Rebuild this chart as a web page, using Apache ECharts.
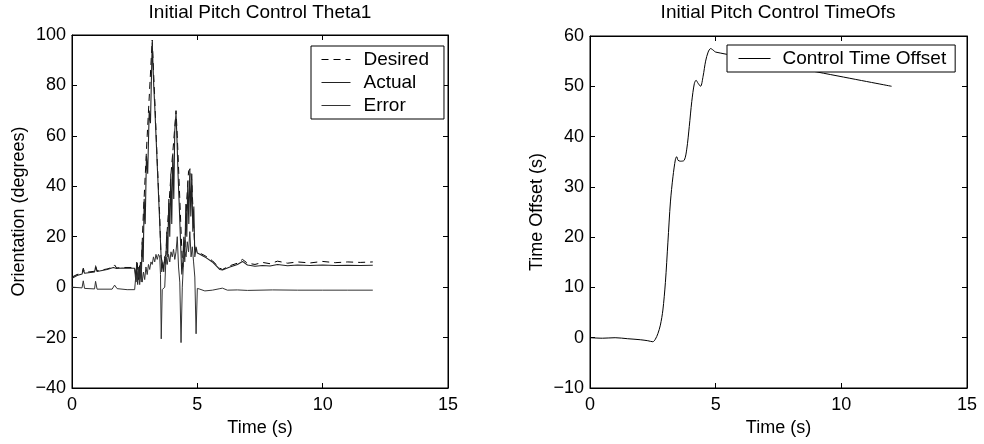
<!DOCTYPE html>
<html lang="en">
<head>
    <meta charset="UTF-8">
    <title>Initial Pitch Control</title>
    <script src="https://cdn.jsdelivr.net/npm/echarts@6/dist/echarts.min.js"></script>
    <style>
        html, body { margin: 0; padding: 0; background: #fff; }
        #main { width: 984px; height: 444px; }
    </style>
</head>
<body>
<div id="main"></div>
<script>
    // ---- data: [time (s), value] ----
    var desired = [
        [0, 4.0], [0.2, 5.0], [0.4, 5.5], [0.45, 7.5], [0.5, 5.8], [0.9, 6.3], [0.94, 8.5], [1.0, 6.5],
        [1.4, 7.2], [1.65, 8.0], [1.7, 8.8], [1.78, 7.6], [2.0, 7.8], [2.5, 7.8], [2.55, 4], [2.6, 10],
        [2.65, 3], [2.7, 9], [2.75, 5], [2.85, 30], [3.0, 60], [3.2, 98], [3.3, 75], [3.4, 50],
        [3.5, 28], [3.55, 12], [3.6, 10], [3.65, 11], [3.7, 12], [3.75, 13], [3.78, 20], [3.85, 30],
        [3.95, 45], [4.05, 57], [4.15, 70], [4.2, 60], [4.3, 35], [4.38, 15], [4.42, 8], [4.5, 15],
        [4.58, 35], [4.65, 46], [4.72, 47], [4.78, 42], [4.85, 25], [4.9, 15], [4.95, 14], [5.0, 14],
        [5.1, 13.5], [5.3, 12.5], [5.6, 10.5], [5.9, 7.5], [6.0, 7], [6.3, 8.5], [6.6, 9.5], [6.8, 11],
        [7.0, 9.5], [7.3, 9], [7.6, 9.8], [7.9, 9.3], [8.2, 10.3], [8.6, 9.5], [9.0, 10], [9.5, 9.6],
        [10.0, 10.2], [10.5, 9.7], [11.0, 10], [11.5, 9.8], [12.0, 10]
    ];
    var actual = [
        [0, 3.5], [0.2, 4.6], [0.4, 5.2], [0.45, 7], [0.5, 5.5], [0.9, 6], [0.94, 8], [1.0, 6.2],
        [1.4, 7], [1.65, 7.8], [1.7, 8.5], [1.78, 7.4], [2.0, 7.6], [2.5, 7.5], [2.55, 2], [2.58, 10],
        [2.62, 1], [2.66, 8], [2.7, 3], [2.73, 10], [2.76, 2], [2.8, 18], [2.84, 10], [2.88, 35],
        [2.92, 25], [2.97, 52], [3.02, 45], [3.08, 70], [3.13, 65], [3.2, 97], [3.26, 80], [3.3, 72],
        [3.36, 58], [3.42, 44], [3.48, 30], [3.53, 18], [3.58, 6], [3.62, 10], [3.66, 6], [3.7, 12],
        [3.74, 9], [3.78, 22], [3.82, 12], [3.86, 35], [3.9, 20], [3.94, 45], [3.98, 25], [4.02, 53],
        [4.06, 35], [4.1, 62], [4.15, 69], [4.19, 58], [4.23, 45], [4.28, 32], [4.33, 18], [4.38, 5],
        [4.42, 9], [4.46, 20], [4.5, 10], [4.54, 33], [4.58, 20], [4.62, 42], [4.66, 25], [4.7, 47],
        [4.74, 28], [4.78, 45], [4.82, 22], [4.86, 32], [4.9, 12], [4.95, 16], [5.0, 13.5], [5.1, 13],
        [5.3, 12], [5.6, 10], [5.9, 7], [6.0, 6.8], [6.3, 8], [6.6, 9], [6.8, 10.2], [7.0, 8.8],
        [7.3, 8.3], [7.6, 8.6], [7.9, 8.4], [8.2, 9], [8.6, 8.5], [9.0, 8.8], [9.5, 8.6], [10.0, 8.8],
        [10.5, 8.6], [11.0, 8.7], [11.5, 8.6], [12.0, 8.7]
    ];
    var error = [
        [0, 0], [0.4, -0.3], [0.45, 2.5], [0.5, -0.5], [0.9, -0.7], [0.94, 2.3], [1.0, -0.8], [1.6, -0.8],
        [1.7, 0.8], [1.8, -0.6], [2.2, -1], [2.5, -1], [2.55, 5], [2.6, 2], [2.65, 8], [2.7, 1],
        [2.75, 9], [2.8, 2], [2.85, 6], [2.9, 3], [2.95, 8], [3.0, 5], [3.05, 9], [3.1, 7],
        [3.15, 10], [3.2, 9], [3.25, 12], [3.3, 10], [3.35, 13], [3.4, 11], [3.45, 13], [3.5, 12],
        [3.53, 5], [3.56, -20.5], [3.6, -1], [3.65, -1.5], [3.7, 0], [3.75, 12], [3.8, 9], [3.85, 13],
        [3.9, 10], [3.95, 14], [4.0, 12], [4.05, 15], [4.1, 11], [4.15, 14], [4.2, 20], [4.25, 8],
        [4.3, 2], [4.35, -22], [4.4, 0], [4.45, 10], [4.5, 14], [4.55, 12], [4.6, 18], [4.65, 14],
        [4.7, 22], [4.75, 12], [4.8, 16], [4.85, 10], [4.9, 4], [4.95, -18.5], [5.0, -0.5], [5.1, -0.8],
        [5.3, -1.5], [5.6, -1.2], [5.9, -0.6], [6.0, -0.4], [6.2, -1.2], [6.6, -1.1], [7.0, -1.3],
        [8.0, -1.1], [9.0, -1.2], [10.0, -1.2], [11.0, -1.2], [12.0, -1.2]
    ];
    var timeOffset = [
        [0, 0], [0.5, -0.1], [1.0, 0], [1.5, -0.2], [2.0, -0.4], [2.3, -0.6], [2.5, -0.8], [2.6, -0.3],
        [2.7, 0.8], [2.8, 2.5], [2.9, 5.5], [3.0, 11], [3.1, 19], [3.2, 27], [3.3, 32], [3.4, 35.5],
        [3.45, 36], [3.5, 35.3], [3.6, 35.1], [3.75, 35.3], [3.85, 37.5], [3.95, 42], [4.05, 47],
        [4.15, 50.5], [4.22, 51.2], [4.3, 50.6], [4.4, 50], [4.5, 52], [4.6, 55], [4.7, 56.8],
        [4.8, 57.5], [4.9, 57.2], [5.0, 56.8], [12.0, 50]
    ];
    var xTicks = { min: 0, max: 15, interval: 5 };
    var thetaTicks = { min: -40, max: 100, interval: 20 };
    var offsetTicks = { min: -10, max: 60, interval: 10 };

    var FONT = 'Liberation Sans, Arial, sans-serif';

    // matlab style minus sign
    function tickFmt(v) {
        return String(v).replace('-', '\u2212');
    }

    function mkX(grid, ticks, top, name) {
        return {
            type: 'value', gridIndex: grid, position: top ? 'top' : 'bottom',
            min: ticks.min, max: ticks.max, interval: ticks.interval,
            name: top ? '' : name, nameLocation: 'middle', nameGap: 30,
            nameTextStyle: { color: '#000', fontSize: 18, fontFamily: FONT },
            axisLine: { show: true, onZero: false, lineStyle: { color: '#000', width: 1 } },
            axisTick: { show: true, inside: true, length: 5, lineStyle: { color: '#000' } },
            axisLabel: { show: !top, color: '#000', fontSize: 18, fontFamily: FONT, margin: 8, formatter: tickFmt },
            splitLine: { show: false }
        };
    }
    function mkY(grid, ticks, right, name) {
        return {
            type: 'value', gridIndex: grid, position: right ? 'right' : 'left',
            min: ticks.min, max: ticks.max, interval: ticks.interval,
            name: right ? '' : name, nameLocation: 'middle', nameGap: 44,
            nameTextStyle: { color: '#000', fontSize: 18, fontFamily: FONT },
            axisLine: { show: true, onZero: false, lineStyle: { color: '#000', width: 1 } },
            axisTick: { show: true, inside: true, length: 5, lineStyle: { color: '#000' } },
            axisLabel: { show: !right, color: '#000', fontSize: 18, fontFamily: FONT, margin: 6, formatter: tickFmt },
            splitLine: { show: false }
        };
    }

    var myChart = echarts.init(document.getElementById('main'), null, { renderer: 'canvas' });
    var option = {
        animation: false,
        backgroundColor: '#fff',
        title: [
            { text: 'Initial Pitch Control Theta1', left: 260, top: 3, padding: 0, textAlign: 'center',
              textStyle: { color: '#000', fontSize: 19, fontWeight: 'normal', fontFamily: FONT } },
            { text: 'Initial Pitch Control TimeOfs', left: 778, top: 3, padding: 0, textAlign: 'center',
              textStyle: { color: '#000', fontSize: 19, fontWeight: 'normal', fontFamily: FONT } }
        ],
        grid: [
            { left: 72, right: 536, top: 35, bottom: 56, show: true, borderColor: '#000', borderWidth: 1 },
            { left: 590, right: 17, top: 36, bottom: 56, show: true, borderColor: '#000', borderWidth: 1 }
        ],
        legend: [
            {
                orient: 'vertical', left: 311, top: 46,
                data: ['Desired', 'Actual', 'Error'],
                backgroundColor: '#fff', borderColor: '#000', borderWidth: 1,
                padding: [4, 15, 4, 10], itemGap: 4, itemWidth: 29, itemHeight: 14,
                itemStyle: { opacity: 0 },
                lineStyle: { width: 1 },
                textStyle: { color: '#000', fontSize: 19, fontFamily: FONT, lineHeight: 18, padding: [0, 0, 0, 8] }
            },
            {
                orient: 'vertical', left: 727, top: 45,
                data: ['Control Time Offset'],
                backgroundColor: '#fff', borderColor: '#000', borderWidth: 1,
                padding: [4, 9, 4, 11], itemWidth: 32, itemHeight: 14,
                itemStyle: { opacity: 0 },
                lineStyle: { width: 1 },
                textStyle: { color: '#000', fontSize: 19, fontFamily: FONT, lineHeight: 18, padding: [0, 0, 0, 7] }
            }
        ],
        xAxis: [
            mkX(0, xTicks, false, 'Time (s)'), mkX(0, xTicks, true),
            mkX(1, xTicks, false, 'Time (s)'), mkX(1, xTicks, true)
        ],
        yAxis: [
            mkY(0, thetaTicks, false, 'Orientation (degrees)'), mkY(0, thetaTicks, true),
            mkY(1, offsetTicks, false, 'Time Offset (s)'), mkY(1, offsetTicks, true)
        ],
        series: [
            {
                name: 'Desired', type: 'line', xAxisIndex: 0, yAxisIndex: 0, data: desired,
                symbol: 'none', color: '#000',
                lineStyle: { color: '#000', width: 1, type: [7, 5] }
            },
            {
                name: 'Actual', type: 'line', xAxisIndex: 0, yAxisIndex: 0, data: actual,
                symbol: 'none', color: '#333',
                lineStyle: { color: '#222', width: 1.1 }
            },
            {
                name: 'Error', type: 'line', xAxisIndex: 0, yAxisIndex: 0, data: error,
                symbol: 'none', color: '#444',
                lineStyle: { color: '#333', width: 1 }
            },
            {
                name: 'Control Time Offset', type: 'line', xAxisIndex: 2, yAxisIndex: 2, data: timeOffset,
                symbol: 'none', smooth: 0.3, color: '#000',
                lineStyle: { color: '#000', width: 1 }
            }
        ]
    };
    myChart.setOption(option);
</script>
</body>
</html>
